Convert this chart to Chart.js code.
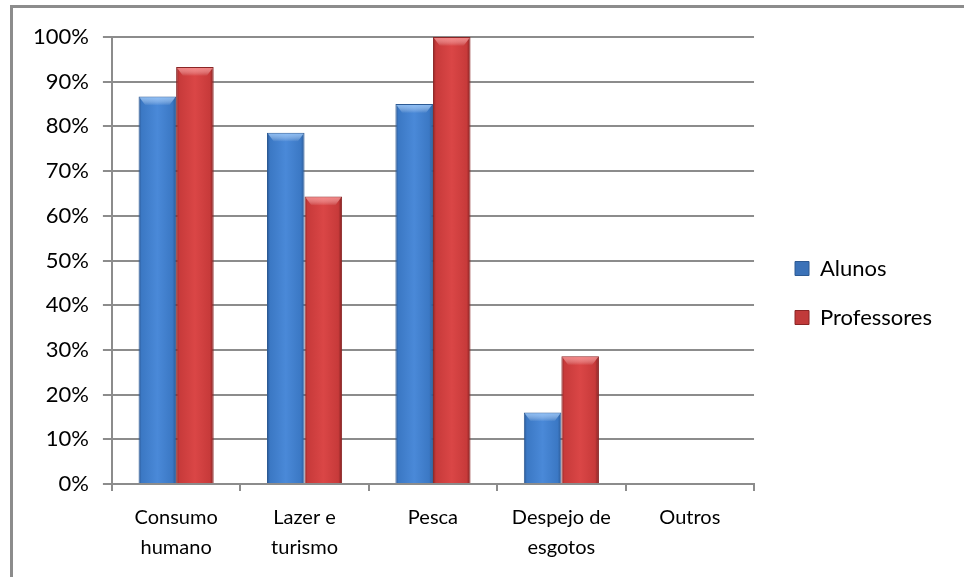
<!DOCTYPE html>
<html>
<head>
<meta charset="utf-8">
<script src="https://cdn.jsdelivr.net/npm/chart.js"></script>
<style>
  html, body { margin: 0; padding: 0; background: #ffffff; }
  #wrap { width: 964px; height: 577px; position: relative; }
</style>
</head>
<body>
<div id="wrap"><canvas id="usoChart"></canvas></div>
<script>
const categories = [['Consumo', 'humano'], ['Lazer e', 'turismo'], ['Pesca'], ['Despejo de', 'esgotos'], ['Outros']];
const alunos = [86.7, 78.6, 85.0, 16.0, 0];
const professores = [93.3, 64.3, 100, 28.6, 0];
const yTicks = [0, 10, 20, 30, 40, 50, 60, 70, 80, 90, 100];

const GRID = '#8c8c8c';
const CAT_PCT = 0.585;
const TOP_GLOSS = ['rgba(150,200,255,0.85)', 'rgba(255,140,140,0.85)'];

// horizontal shading so bars look like Excel's rounded 3D columns
function barShade(side, stops) {
    return (ctx) => {
        const chart = ctx.chart;
        const x = chart.scales && chart.scales.x;
        if (!x || !chart.chartArea || ctx.dataIndex === undefined) return stops[2];
        const cat = x.width / categories.length;
        const bw = cat * CAT_PCT / 2;
        const cx = x.getPixelForValue(ctx.dataIndex) + side * bw / 2;
        const g = chart.ctx.createLinearGradient(cx - bw / 2, 0, cx + bw / 2, 0);
        g.addColorStop(0, stops[0]);
        g.addColorStop(0.08, stops[1]);
        g.addColorStop(0.5, stops[2]);
        g.addColorStop(0.9, stops[1]);
        g.addColorStop(1, stops[3]);
        return g;
    };
}

const frame = {
    id: 'frame',
    beforeDraw(chart) {
        const c = chart.ctx;
        c.save();
        c.strokeStyle = GRID;
        c.lineWidth = 3;
        c.beginPath();
        c.moveTo(10, 6.5);
        c.lineTo(964, 6.5);
        c.moveTo(11.5, 6);
        c.lineTo(11.5, 577);
        c.stroke();
        c.restore();
    }
};

// light bevel on the top of each column
const bevel = {
    id: 'bevel',
    afterDatasetsDraw(chart) {
        const c = chart.ctx;
        chart.data.datasets.forEach((ds, di) => {
            chart.getDatasetMeta(di).data.forEach(bar => {
                const { x, y, base, width } = bar.getProps(['x', 'y', 'base', 'width'], true);
                const h = Math.min(9, base - y - 1);
                if (h < 2) return;
                const l = x - width / 2 + 1, r = x + width / 2 - 1;
                const g = c.createLinearGradient(0, y, 0, y + h);
                g.addColorStop(0, TOP_GLOSS[di]);
                g.addColorStop(1, 'rgba(255,255,255,0)');
                c.save();
                c.fillStyle = g;
                c.beginPath();
                c.moveTo(l, y + 1);
                c.lineTo(r, y + 1);
                c.lineTo(r - 6, y + h);
                c.lineTo(l + 6, y + h);
                c.closePath();
                c.fill();
                c.restore();
            });
        });
    }
};

// empty axes, used only as spacers around the plot
const spacer = (pos, size) => ({
    type: 'linear',
    position: pos,
    display: true,
    grid: { display: false },
    border: { display: false },
    ticks: { display: false },
    afterFit(s) {
        if (pos === 'top') s.height = size; else s.width = size;
    }
});

new Chart(document.getElementById('usoChart').getContext('2d'), {
    type: 'bar',
    data: {
        labels: categories,
        datasets: [
            {
                label: 'Alunos',
                data: alunos,
                backgroundColor: barShade(-1, ['#2a5590', '#3b78c4', '#4a89d8', '#2c5a96']),
                borderColor: '#2d5a93',
                borderWidth: 1,
                borderSkipped: 'bottom'
            },
            {
                label: 'Professores',
                data: professores,
                backgroundColor: barShade(1, ['#8f2626', '#c73a3a', '#da4646', '#7e1f1f']),
                borderColor: '#8a2525',
                borderWidth: 1,
                borderSkipped: 'bottom'
            }
        ]
    },
    options: {
        responsive: true,
        maintainAspectRatio: false,
        animation: false,
        datasets: { bar: { barPercentage: 1, categoryPercentage: CAT_PCT } },
        layout: { padding: { left: 19, right: 22, top: 11, bottom: 2 } },
        plugins: {
            tooltip: { enabled: false },
            legend: {
                position: 'right',
                maxWidth: 300,
                labels: {
                    boxWidth: 14,
                    boxHeight: 14,
                    padding: 27,
                    color: '#000000',
                    font: { family: 'Lato', size: 22 },
                    generateLabels(chart) {
                        const fills = ['#3b72b8', '#c13a3a'];
                        const edges = ['#2d5a93', '#8a2525'];
                        return chart.data.datasets.map((ds, i) => ({
                            text: ds.label,
                            fillStyle: fills[i],
                            strokeStyle: edges[i],
                            lineWidth: 1,
                            datasetIndex: i
                        }));
                    }
                }
            }
        },
        scales: {
            x: {
                grid: {
                    offset: true,
                    drawOnChartArea: false,
                    drawTicks: true,
                    tickLength: 7,
                    color: GRID,
                    lineWidth: 2
                },
                border: { color: GRID, width: 2 },
                ticks: {
                    color: '#000000',
                    padding: 12,
                    maxRotation: 0,
                    font: { family: 'Lato', size: 20, lineHeight: 1.5 }
                }
            },
            y: {
                min: 0,
                max: 100,
                afterBuildTicks(axis) { axis.ticks = yTicks.map(v => ({ value: v })); },
                grid: { color: GRID, lineWidth: 2, tickLength: 9 },
                border: { color: GRID, width: 2 },
                ticks: {
                    color: '#000000',
                    padding: 14,
                    font: { family: 'Lato', size: 22 },
                    callback: (v) => v + '%'
                }
            },
            xTop: spacer('top', 26),
            yRight: spacer('right', 14)
        }
    },
    plugins: [frame, bevel]
});
</script>
</body>
</html>
